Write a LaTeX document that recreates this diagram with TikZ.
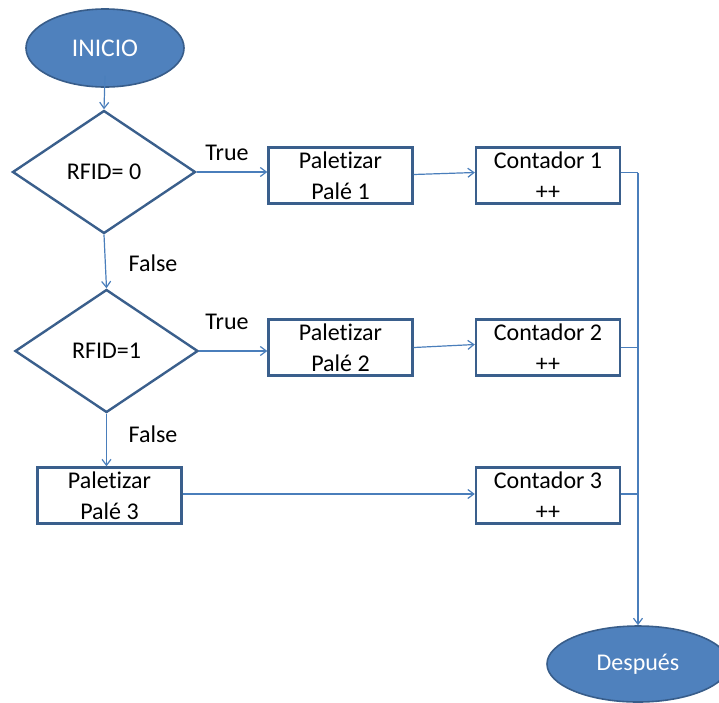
\documentclass[tikz,border=0pt]{standalone}
\usepackage{fontspec}
\setmainfont[Ligatures={NoCommon}]{Carlito}
\usetikzlibrary{shapes.geometric,arrows.meta}
\definecolor{termfill}{HTML}{4F81BD}
\definecolor{termline}{HTML}{385D8A}
\definecolor{boxline}{HTML}{3A5F8C}
\definecolor{flow}{HTML}{4A7EBB}
\tikzset{
  terminal/.style={ellipse, fill=termfill, draw=termline, line width=1.6pt,
    text=white, inner sep=0pt},
  decision/.style={diamond, draw=boxline, line width=2.4pt, inner sep=0pt,
    minimum width=183pt, minimum height=123pt},
  process/.style={rectangle, draw=boxline, line width=2.4pt, inner sep=0pt,
    minimum width=144pt, minimum height=56pt, align=center},
  flowline/.style={draw=flow, line width=1.2pt},
  flowarrow/.style={flowline, -{Straight Barb[length=6pt,width=9pt]}},
  lbl/.style={inner sep=0pt}
}
\begin{document}
\begin{tikzpicture}[x=1pt,y=-1pt,font=\fontsize{24}{30.5}\selectfont]
\useasboundingbox (0,0) rectangle (719,702);
\clip (0,0) rectangle (719,702);

% start / end terminals
\node[terminal, minimum width=158pt, minimum height=78pt,
  font=\fontsize{25.5}{30}\selectfont] (inicio) at (105,48) {INICIO};
\node[terminal, minimum width=182pt, minimum height=76pt] (despues) at (638,664) {Después};

% decisions
\node[decision] (d1) at (104,172) {RFID= 0};
\node[decision] (d2) at (106.5,351) {RFID=1};

% processes
\node[process] (p1) at (340.5,175.5) {Paletizar\\Palé 1};
\node[process] (c1) at (548,175.5) {Contador 1\\++};
\node[process] (p2) at (340.5,347.5) {Paletizar\\Palé 2};
\node[process] (c2) at (548,347.5) {Contador 2\\++};
\node[process] (p3) at (109.5,495.5) {Paletizar\\Palé 3};
\node[process] (c3) at (548,495.5) {Contador 3\\++};

% branch labels
\node[lbl] (t1) at (227,153) {True};
\node[lbl] (t2) at (227,322) {True};
\node[lbl] (f1) at (153,263) {False};
\node[lbl] (f2) at (153,434) {False};

% collector bus on the right
\coordinate (bus) at (638,0);

% main flow
\draw[flowarrow] ([yshift=12pt]inicio.south) -- (d1.north);
\draw[flowarrow] (d1.south) -- (d2.north);
\draw[flowarrow] (d2.south) -- (p3.north -| d2.south);
\draw[flowarrow] (d1.east) -- (d1.east -| p1.west);
\draw[flowarrow] (d2.east) -- (d2.east -| p2.west);
\draw[flowarrow] ([yshift=1pt]p1.east) -- ([yshift=3pt]c1.west);
\draw[flowarrow] (p2.east) -- ([yshift=3pt]c2.west);
\draw[flowarrow] ([yshift=1.5pt]p3.east) -- ([yshift=1.5pt]c3.west);

% merge into the end terminal
\draw[flowline] ([yshift=3pt]c1.east) -- ([yshift=3pt]c1.east -| bus);
\draw[flowline] (c2.east) -- (c2.east -| bus);
\draw[flowline] ([yshift=1.5pt]c3.east) -- ([yshift=1.5pt]c3.east -| bus);
\draw[flowarrow] ([yshift=3pt]c1.east -| bus) -- (despues.north);
\end{tikzpicture}
\end{document}
